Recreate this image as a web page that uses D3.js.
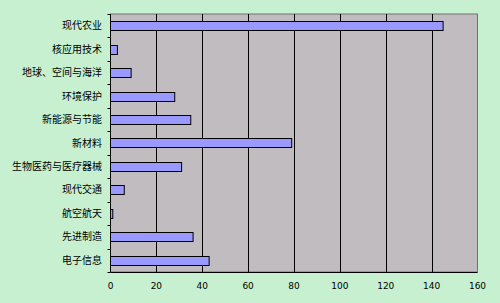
<!DOCTYPE html>
<html><head><meta charset="utf-8">
<script src="https://cdn.jsdelivr.net/npm/d3@7"></script>
<style>html,body{margin:0;padding:0;background:#c6f0cf;}svg{display:block;}</style>
</head><body>
<script>
const categories = ["现代农业","核应用技术","地球、空间与海洋","环境保护","新能源与节能","新材料","生物医药与医疗器械","现代交通","航空航天","先进制造","电子信息"];
const values = [145,3,9,28,35,79,31,6,1,36,43];
const xTicks = [0,20,40,60,80,100,120,140,160];

const W=500,H=303;
const svg=d3.select("body").append("svg").attr("width",W).attr("height",H);
svg.append("rect").attr("width",W).attr("height",H).attr("fill","#c6f0cf");
const L=110.5,R=477.5,T=14,B=272;
const x=d3.scaleLinear().domain([0,160]).range([L,R]);
const y=d3.scaleBand().domain(categories).range([T,B]);

svg.append("rect").attr("x",L).attr("y",T).attr("width",R-L).attr("height",B-T).attr("fill","#c0bcc0").attr("stroke","#707070").attr("stroke-width",1);
// gridlines
svg.append("g").selectAll("line").data(xTicks.filter(d=>d>0&&d<160)).join("line")
  .attr("x1",d=>Math.round(x(d))+0.5).attr("x2",d=>Math.round(x(d))+0.5).attr("y1",T).attr("y2",B)
  .attr("stroke","#000").attr("stroke-width",1);
// bars
const bh=9;
svg.append("g").selectAll("rect").data(categories).join("rect")
  .attr("x",L).attr("y",(d)=>Math.round(y(d)+y.bandwidth()/2-bh/2)+0.5)
  .attr("width",(d,i)=>x(values[i])-L).attr("height",bh)
  .attr("fill","#9999ff").attr("stroke","#000").attr("stroke-width",1);
// axes
svg.append("line").attr("x1",L).attr("x2",L).attr("y1",T).attr("y2",B).attr("stroke","#000");
svg.append("line").attr("x1",L).attr("x2",R).attr("y1",B+0.5).attr("y2",B+0.5).attr("stroke","#000");
// y ticks at band boundaries
const bounds=categories.map(c=>y(c)).concat([B]);
svg.append("g").selectAll("line").data(bounds).join("line")
  .attr("x1",L-3).attr("x2",L).attr("y1",d=>Math.round(d)+0.5).attr("y2",d=>Math.round(d)+0.5).attr("stroke","#000");
// y labels
svg.append("g").selectAll("text").data(categories).join("text")
  .attr("x",102).attr("y",d=>y(d)+y.bandwidth()/2).attr("dy","0.35em")
  .attr("text-anchor","end").attr("font-family","Noto Sans CJK SC").attr("font-size",10).attr("fill","#000").text(d=>d);
// x labels
svg.append("g").selectAll("text").data(xTicks).join("text")
  .attr("x",d=>x(d)).attr("y",289).attr("text-anchor","middle")
  .attr("font-family","DejaVu Sans").attr("font-size",9).attr("fill","#000").text(d=>d);
</script>
</body></html>
